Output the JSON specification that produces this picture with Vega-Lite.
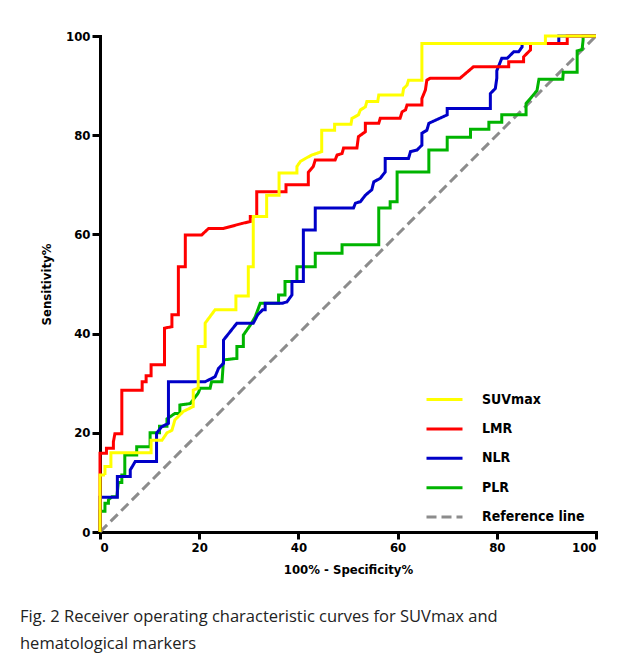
{
  "$schema": "https://vega.github.io/schema/vega-lite/v6.json",
  "width": 496,
  "height": 496,
  "autosize": {"type": "none"},
  "padding": {"left": 100, "top": 36, "right": 31, "bottom": 125},
  "background": "white",
  "config": {"view": {"stroke": null}},
  "title": {
    "text": ["Fig. 2 Receiver operating characteristic curves for SUVmax and", "hematological markers"],
    "orient": "bottom",
    "anchor": "start",
    "frame": "group",
    "dx": -80,
    "offset": 33,
    "font": "Open Sans",
    "fontSize": 16.5,
    "fontWeight": "normal",
    "color": "#222222",
    "lineHeight": 27
  },
  "data": {
    "values": [
      {"s":"Reference line","i":0,"x":0,"y":0},
      {"s":"Reference line","i":1,"x":100,"y":100},

      {"s":"PLR","i":0,"x":0,"y":0},
      {"s":"PLR","i":1,"x":0,"y":4.2},
      {"s":"PLR","i":2,"x":1,"y":4.2},
      {"s":"PLR","i":3,"x":1,"y":5.8},
      {"s":"PLR","i":4,"x":1.7,"y":5.8},
      {"s":"PLR","i":5,"x":1.7,"y":6.5},
      {"s":"PLR","i":6,"x":2.4,"y":7.1},
      {"s":"PLR","i":7,"x":3.4,"y":7.1},
      {"s":"PLR","i":8,"x":3.7,"y":10},
      {"s":"PLR","i":9,"x":4.4,"y":10},
      {"s":"PLR","i":10,"x":4.4,"y":11.5},
      {"s":"PLR","i":11,"x":5,"y":11.5},
      {"s":"PLR","i":12,"x":5,"y":15.5},
      {"s":"PLR","i":13,"x":7.4,"y":15.5},
      {"s":"PLR","i":14,"x":7.4,"y":17.2},
      {"s":"PLR","i":15,"x":10.1,"y":17.2},
      {"s":"PLR","i":16,"x":10.1,"y":20},
      {"s":"PLR","i":17,"x":12,"y":20},
      {"s":"PLR","i":18,"x":12,"y":21.3},
      {"s":"PLR","i":19,"x":13.5,"y":21.3},
      {"s":"PLR","i":20,"x":13.5,"y":22.8},
      {"s":"PLR","i":21,"x":15.1,"y":23.9},
      {"s":"PLR","i":22,"x":16.1,"y":23.9},
      {"s":"PLR","i":23,"x":16.1,"y":25.6},
      {"s":"PLR","i":24,"x":18.2,"y":25.9},
      {"s":"PLR","i":25,"x":19.8,"y":28},
      {"s":"PLR","i":26,"x":20.2,"y":29},
      {"s":"PLR","i":27,"x":22.2,"y":29},
      {"s":"PLR","i":28,"x":22.5,"y":30.3},
      {"s":"PLR","i":29,"x":24.6,"y":30.3},
      {"s":"PLR","i":30,"x":24.9,"y":34.7},
      {"s":"PLR","i":31,"x":27.6,"y":35},
      {"s":"PLR","i":32,"x":27.6,"y":37.4},
      {"s":"PLR","i":33,"x":28.9,"y":37.4},
      {"s":"PLR","i":34,"x":28.9,"y":39.7},
      {"s":"PLR","i":35,"x":30.3,"y":41.7},
      {"s":"PLR","i":36,"x":31.3,"y":43.4},
      {"s":"PLR","i":37,"x":32.3,"y":46.1},
      {"s":"PLR","i":38,"x":36,"y":46.1},
      {"s":"PLR","i":39,"x":36,"y":47.8},
      {"s":"PLR","i":40,"x":37.3,"y":47.8},
      {"s":"PLR","i":41,"x":37.3,"y":50.5},
      {"s":"PLR","i":42,"x":39.7,"y":50.5},
      {"s":"PLR","i":43,"x":39.7,"y":53.5},
      {"s":"PLR","i":44,"x":43.4,"y":53.5},
      {"s":"PLR","i":45,"x":43.4,"y":56.2},
      {"s":"PLR","i":46,"x":48.8,"y":56.2},
      {"s":"PLR","i":47,"x":48.8,"y":57.9},
      {"s":"PLR","i":48,"x":56.2,"y":57.9},
      {"s":"PLR","i":49,"x":56.2,"y":65.3},
      {"s":"PLR","i":50,"x":58.5,"y":65.3},
      {"s":"PLR","i":51,"x":58.5,"y":66.6},
      {"s":"PLR","i":52,"x":59.9,"y":66.6},
      {"s":"PLR","i":53,"x":59.9,"y":72.6},
      {"s":"PLR","i":54,"x":66.3,"y":72.6},
      {"s":"PLR","i":55,"x":66.3,"y":77},
      {"s":"PLR","i":56,"x":70,"y":77},
      {"s":"PLR","i":57,"x":70,"y":79.6},
      {"s":"PLR","i":58,"x":74.7,"y":79.6},
      {"s":"PLR","i":59,"x":74.7,"y":81.2},
      {"s":"PLR","i":60,"x":78.4,"y":81.2},
      {"s":"PLR","i":61,"x":78.4,"y":82.6},
      {"s":"PLR","i":62,"x":81,"y":82.6},
      {"s":"PLR","i":63,"x":81,"y":84.1},
      {"s":"PLR","i":64,"x":85.9,"y":84.1},
      {"s":"PLR","i":65,"x":85.9,"y":86.4},
      {"s":"PLR","i":66,"x":87.1,"y":87.8},
      {"s":"PLR","i":67,"x":88.1,"y":89},
      {"s":"PLR","i":68,"x":88.5,"y":91.3},
      {"s":"PLR","i":69,"x":93.3,"y":91.3},
      {"s":"PLR","i":70,"x":93.4,"y":92.7},
      {"s":"PLR","i":71,"x":96.2,"y":92.7},
      {"s":"PLR","i":72,"x":96.2,"y":97},
      {"s":"PLR","i":73,"x":97.2,"y":97.3},
      {"s":"PLR","i":74,"x":97.4,"y":99.2},
      {"s":"PLR","i":75,"x":97.4,"y":100},
      {"s":"PLR","i":76,"x":100,"y":100},

      {"s":"NLR","i":0,"x":0,"y":0},
      {"s":"NLR","i":1,"x":0,"y":7},
      {"s":"NLR","i":2,"x":3.5,"y":7},
      {"s":"NLR","i":3,"x":3.5,"y":11.2},
      {"s":"NLR","i":4,"x":6.1,"y":11.2},
      {"s":"NLR","i":5,"x":6.1,"y":12.5},
      {"s":"NLR","i":6,"x":7.1,"y":14.2},
      {"s":"NLR","i":7,"x":11.4,"y":14.2},
      {"s":"NLR","i":8,"x":11.4,"y":19.9},
      {"s":"NLR","i":9,"x":12.4,"y":21.2},
      {"s":"NLR","i":10,"x":13.8,"y":21.9},
      {"s":"NLR","i":11,"x":13.8,"y":30.3},
      {"s":"NLR","i":12,"x":21.2,"y":30.3},
      {"s":"NLR","i":13,"x":23.2,"y":31.3},
      {"s":"NLR","i":14,"x":23.9,"y":33},
      {"s":"NLR","i":15,"x":24.9,"y":34},
      {"s":"NLR","i":16,"x":24.9,"y":38.7},
      {"s":"NLR","i":17,"x":27.6,"y":42.1},
      {"s":"NLR","i":18,"x":30.9,"y":42.1},
      {"s":"NLR","i":19,"x":31.8,"y":43.8},
      {"s":"NLR","i":20,"x":32.8,"y":44.8},
      {"s":"NLR","i":21,"x":33.3,"y":44.8},
      {"s":"NLR","i":22,"x":33.3,"y":46.1},
      {"s":"NLR","i":23,"x":36.7,"y":46.1},
      {"s":"NLR","i":24,"x":37.7,"y":46.4},
      {"s":"NLR","i":25,"x":38.7,"y":47.8},
      {"s":"NLR","i":26,"x":38.7,"y":50.5},
      {"s":"NLR","i":27,"x":41,"y":50.5},
      {"s":"NLR","i":28,"x":41,"y":60.9},
      {"s":"NLR","i":29,"x":43.4,"y":60.9},
      {"s":"NLR","i":30,"x":43.4,"y":65.3},
      {"s":"NLR","i":31,"x":51.1,"y":65.3},
      {"s":"NLR","i":32,"x":51.5,"y":66.3},
      {"s":"NLR","i":33,"x":52.5,"y":66.6},
      {"s":"NLR","i":34,"x":53.5,"y":67.9},
      {"s":"NLR","i":35,"x":54.8,"y":69},
      {"s":"NLR","i":36,"x":55.2,"y":70.6},
      {"s":"NLR","i":37,"x":56.5,"y":71.3},
      {"s":"NLR","i":38,"x":57.5,"y":72.6},
      {"s":"NLR","i":39,"x":57.5,"y":75.3},
      {"s":"NLR","i":40,"x":62.2,"y":75.3},
      {"s":"NLR","i":41,"x":62.6,"y":76.7},
      {"s":"NLR","i":42,"x":63.9,"y":77},
      {"s":"NLR","i":43,"x":64.9,"y":78},
      {"s":"NLR","i":44,"x":64.9,"y":80.4},
      {"s":"NLR","i":45,"x":65.9,"y":81},
      {"s":"NLR","i":46,"x":66.3,"y":82.4},
      {"s":"NLR","i":47,"x":70,"y":84.1},
      {"s":"NLR","i":48,"x":70,"y":85.4},
      {"s":"NLR","i":49,"x":78.7,"y":85.4},
      {"s":"NLR","i":50,"x":78.7,"y":88.4},
      {"s":"NLR","i":51,"x":79.7,"y":89.4},
      {"s":"NLR","i":52,"x":80,"y":91.5},
      {"s":"NLR","i":53,"x":80,"y":93},
      {"s":"NLR","i":54,"x":81,"y":95.5},
      {"s":"NLR","i":55,"x":82.1,"y":95.5},
      {"s":"NLR","i":56,"x":83.4,"y":96.8},
      {"s":"NLR","i":57,"x":84.4,"y":96.8},
      {"s":"NLR","i":58,"x":85.1,"y":97.8},
      {"s":"NLR","i":59,"x":85.1,"y":98.5},
      {"s":"NLR","i":60,"x":92.5,"y":98.5},
      {"s":"NLR","i":61,"x":92.5,"y":100},
      {"s":"NLR","i":62,"x":100,"y":100},

      {"s":"LMR","i":0,"x":0,"y":0},
      {"s":"LMR","i":1,"x":0,"y":15.9},
      {"s":"LMR","i":2,"x":1.3,"y":15.9},
      {"s":"LMR","i":3,"x":1.3,"y":16.9},
      {"s":"LMR","i":4,"x":2.7,"y":16.9},
      {"s":"LMR","i":5,"x":2.7,"y":18.2},
      {"s":"LMR","i":6,"x":3,"y":19.8},
      {"s":"LMR","i":7,"x":4.4,"y":19.8},
      {"s":"LMR","i":8,"x":4.4,"y":28.6},
      {"s":"LMR","i":9,"x":8.5,"y":28.6},
      {"s":"LMR","i":10,"x":8.5,"y":30.3},
      {"s":"LMR","i":11,"x":9.3,"y":30.3},
      {"s":"LMR","i":12,"x":9.3,"y":31.5},
      {"s":"LMR","i":13,"x":10.3,"y":31.5},
      {"s":"LMR","i":14,"x":10.3,"y":33.7},
      {"s":"LMR","i":15,"x":13,"y":33.7},
      {"s":"LMR","i":16,"x":13,"y":41.1},
      {"s":"LMR","i":17,"x":14.5,"y":41.4},
      {"s":"LMR","i":18,"x":14.5,"y":43.8},
      {"s":"LMR","i":19,"x":15.8,"y":43.8},
      {"s":"LMR","i":20,"x":15.8,"y":53.5},
      {"s":"LMR","i":21,"x":17.2,"y":53.5},
      {"s":"LMR","i":22,"x":17.2,"y":59.9},
      {"s":"LMR","i":23,"x":20.5,"y":59.9},
      {"s":"LMR","i":24,"x":21.9,"y":61.2},
      {"s":"LMR","i":25,"x":24.9,"y":61.2},
      {"s":"LMR","i":26,"x":28.6,"y":62.2},
      {"s":"LMR","i":27,"x":30.3,"y":62.6},
      {"s":"LMR","i":28,"x":30.3,"y":63.6},
      {"s":"LMR","i":29,"x":31.6,"y":63.6},
      {"s":"LMR","i":30,"x":31.6,"y":68.6},
      {"s":"LMR","i":31,"x":37.5,"y":68.6},
      {"s":"LMR","i":32,"x":37.5,"y":70},
      {"s":"LMR","i":33,"x":42,"y":70},
      {"s":"LMR","i":34,"x":42,"y":72.5},
      {"s":"LMR","i":35,"x":43,"y":73.7},
      {"s":"LMR","i":36,"x":43.4,"y":75},
      {"s":"LMR","i":37,"x":47.4,"y":75},
      {"s":"LMR","i":38,"x":47.8,"y":76},
      {"s":"LMR","i":39,"x":48.8,"y":76.3},
      {"s":"LMR","i":40,"x":49.1,"y":77.4},
      {"s":"LMR","i":41,"x":51.8,"y":77.4},
      {"s":"LMR","i":42,"x":52.1,"y":79.7},
      {"s":"LMR","i":43,"x":53.5,"y":80.7},
      {"s":"LMR","i":44,"x":53.5,"y":82.4},
      {"s":"LMR","i":45,"x":56.2,"y":82.4},
      {"s":"LMR","i":46,"x":56.5,"y":83.4},
      {"s":"LMR","i":47,"x":60.5,"y":83.4},
      {"s":"LMR","i":48,"x":60.9,"y":84.7},
      {"s":"LMR","i":49,"x":61.6,"y":85.1},
      {"s":"LMR","i":50,"x":61.9,"y":86.1},
      {"s":"LMR","i":51,"x":64.9,"y":86.1},
      {"s":"LMR","i":52,"x":64.9,"y":87.4},
      {"s":"LMR","i":53,"x":65.6,"y":89.1},
      {"s":"LMR","i":54,"x":65.9,"y":91.1},
      {"s":"LMR","i":55,"x":66.6,"y":91.5},
      {"s":"LMR","i":56,"x":72.6,"y":91.5},
      {"s":"LMR","i":57,"x":75.3,"y":93.8},
      {"s":"LMR","i":58,"x":82.4,"y":93.8},
      {"s":"LMR","i":59,"x":82.4,"y":94.8},
      {"s":"LMR","i":60,"x":85.4,"y":94.8},
      {"s":"LMR","i":61,"x":85.4,"y":95.8},
      {"s":"LMR","i":62,"x":86.8,"y":97.2},
      {"s":"LMR","i":63,"x":86.8,"y":98.5},
      {"s":"LMR","i":64,"x":94.2,"y":98.5},
      {"s":"LMR","i":65,"x":94.2,"y":100},
      {"s":"LMR","i":66,"x":100,"y":100},

      {"s":"SUVmax","i":0,"x":0,"y":0},
      {"s":"SUVmax","i":1,"x":0,"y":11.5},
      {"s":"SUVmax","i":2,"x":1,"y":11.5},
      {"s":"SUVmax","i":3,"x":1,"y":13.2},
      {"s":"SUVmax","i":4,"x":2.2,"y":13.2},
      {"s":"SUVmax","i":5,"x":2.2,"y":16},
      {"s":"SUVmax","i":6,"x":10.3,"y":16},
      {"s":"SUVmax","i":7,"x":10.3,"y":18.5},
      {"s":"SUVmax","i":8,"x":12.5,"y":18.5},
      {"s":"SUVmax","i":9,"x":13.5,"y":20},
      {"s":"SUVmax","i":10,"x":14.5,"y":20.5},
      {"s":"SUVmax","i":11,"x":15.1,"y":22.6},
      {"s":"SUVmax","i":12,"x":16.8,"y":24.3},
      {"s":"SUVmax","i":13,"x":18.8,"y":25.3},
      {"s":"SUVmax","i":14,"x":18.8,"y":28.6},
      {"s":"SUVmax","i":15,"x":19.8,"y":29},
      {"s":"SUVmax","i":16,"x":19.8,"y":37.4},
      {"s":"SUVmax","i":17,"x":21.2,"y":37.4},
      {"s":"SUVmax","i":18,"x":21.2,"y":42.1},
      {"s":"SUVmax","i":19,"x":23.2,"y":44.8},
      {"s":"SUVmax","i":20,"x":27.4,"y":44.8},
      {"s":"SUVmax","i":21,"x":27.4,"y":47.6},
      {"s":"SUVmax","i":22,"x":29.9,"y":47.6},
      {"s":"SUVmax","i":23,"x":29.9,"y":53.5},
      {"s":"SUVmax","i":24,"x":30.9,"y":53.5},
      {"s":"SUVmax","i":25,"x":30.9,"y":63.6},
      {"s":"SUVmax","i":26,"x":33.6,"y":63.6},
      {"s":"SUVmax","i":27,"x":33.6,"y":67.9},
      {"s":"SUVmax","i":28,"x":36.1,"y":67.9},
      {"s":"SUVmax","i":29,"x":36.1,"y":72.4},
      {"s":"SUVmax","i":30,"x":39.7,"y":72.4},
      {"s":"SUVmax","i":31,"x":39.7,"y":73.7},
      {"s":"SUVmax","i":32,"x":40.4,"y":74.7},
      {"s":"SUVmax","i":33,"x":41.4,"y":75.3},
      {"s":"SUVmax","i":34,"x":42.7,"y":76},
      {"s":"SUVmax","i":35,"x":44.7,"y":76.7},
      {"s":"SUVmax","i":36,"x":44.7,"y":81},
      {"s":"SUVmax","i":37,"x":47.3,"y":81},
      {"s":"SUVmax","i":38,"x":47.3,"y":82.2},
      {"s":"SUVmax","i":39,"x":50.6,"y":82.2},
      {"s":"SUVmax","i":40,"x":50.8,"y":83.4},
      {"s":"SUVmax","i":41,"x":52.1,"y":84.1},
      {"s":"SUVmax","i":42,"x":52.5,"y":85.1},
      {"s":"SUVmax","i":43,"x":53.5,"y":85.7},
      {"s":"SUVmax","i":44,"x":53.8,"y":86.8},
      {"s":"SUVmax","i":45,"x":56,"y":86.8},
      {"s":"SUVmax","i":46,"x":56.2,"y":88.1},
      {"s":"SUVmax","i":47,"x":61,"y":88.1},
      {"s":"SUVmax","i":48,"x":61.2,"y":89.4},
      {"s":"SUVmax","i":49,"x":61.9,"y":90.1},
      {"s":"SUVmax","i":50,"x":62.2,"y":91.1},
      {"s":"SUVmax","i":51,"x":64.9,"y":91.1},
      {"s":"SUVmax","i":52,"x":64.9,"y":98.5},
      {"s":"SUVmax","i":53,"x":89.8,"y":98.5},
      {"s":"SUVmax","i":54,"x":89.8,"y":100},
      {"s":"SUVmax","i":55,"x":100,"y":100}
    ]
  },
  "mark": {"type": "line", "strokeWidth": 3, "interpolate": "linear", "strokeJoin": "miter", "strokeCap": "butt"},
  "encoding": {
    "x": {
      "field": "x", "type": "quantitative",
      "scale": {"domain": [0, 100], "nice": false},
      "axis": {
        "title": "100% - Specificity%",
        "values": [0, 20, 40, 60, 80, 100],
        "grid": false,
        "domainColor": "black", "domainWidth": 3, "domainCap": "square",
        "tickColor": "black", "tickWidth": 3, "tickSize": 7,
        "labelFont": "DejaVu Sans Condensed, Liberation Sans, sans-serif", "labelFontSize": 13, "labelFontWeight": "bold", "labelColor": "black", "labelPadding": 2,
        "titleFont": "DejaVu Sans Condensed, Liberation Sans, sans-serif", "titleFontSize": 13, "titleFontWeight": "bold", "titleColor": "black", "titlePadding": 9
      }
    },
    "y": {
      "field": "y", "type": "quantitative",
      "scale": {"domain": [0, 100], "nice": false},
      "axis": {
        "title": "Sensitivity%",
        "values": [0, 20, 40, 60, 80, 100],
        "grid": false,
        "domainColor": "black", "domainWidth": 3, "domainCap": "square",
        "tickColor": "black", "tickWidth": 3, "tickSize": 8,
        "labelFont": "DejaVu Sans Condensed, Liberation Sans, sans-serif", "labelFontSize": 13, "labelFontWeight": "bold", "labelColor": "black", "labelPadding": 2,
        "titleFont": "DejaVu Sans Condensed, Liberation Sans, sans-serif", "titleFontSize": 13, "titleFontWeight": "bold", "titleColor": "black", "titlePadding": 12
      }
    },
    "order": {"field": "i", "type": "quantitative"},
    "color": {
      "field": "s", "type": "nominal",
      "scale": {
        "domain": ["SUVmax", "LMR", "NLR", "PLR", "Reference line"],
        "range": ["#ffff00", "#ff0000", "#0000c8", "#00b400", "#8c8c8c"]
      },
      "legend": {
        "title": null, "orient": "none", "legendX": 325, "legendY": 344,
        "symbolType": "stroke", "symbolSize": 1296, "symbolStrokeWidth": 3,
        "labelFont": "DejaVu Sans Condensed, Liberation Sans, sans-serif", "labelFontSize": 14, "labelFontWeight": "bold", "labelColor": "black",
        "labelOffset": 18, "rowPadding": 2.4, "padding": 0
      }
    },
    "strokeDash": {
      "field": "s", "type": "nominal",
      "scale": {
        "domain": ["SUVmax", "LMR", "NLR", "PLR", "Reference line"],
        "range": [[1, 0], [1, 0], [1, 0], [1, 0], [10, 5]]
      },
      "legend": {
        "title": null, "orient": "none", "legendX": 325, "legendY": 344,
        "symbolType": "stroke", "symbolSize": 1296, "symbolStrokeWidth": 3,
        "labelFont": "DejaVu Sans Condensed, Liberation Sans, sans-serif", "labelFontSize": 14, "labelFontWeight": "bold", "labelColor": "black",
        "labelOffset": 18, "rowPadding": 2.4, "padding": 0
      }
    }
  }
}
